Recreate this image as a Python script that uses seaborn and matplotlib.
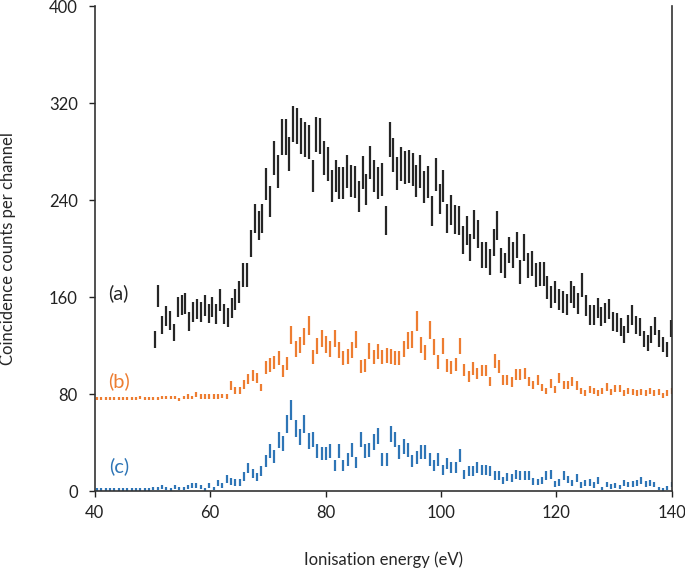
import numpy as np
import pandas as pd
import seaborn as sns
import matplotlib.pyplot as plt

# (a) black spectrum, channels of ~0.667 eV starting at 50.4 eV
a_start, a_step = 50.4, 0.667
a_counts = [125, 161, 137, 144.5, 141, 131, 152, 153.5, 155, 140,
            148, 150, 148, 153, 146.5, 152, 146, 157.5, 146, 143,
            151, 158, 164.5, 178, 178, 204.5, 225, 219, 225, 253,
            239, 275, 264, 292, 292, 278, 303, 301, 293, 290,
            288, 260, 294, 293, 275, 270, 252, 260, 254, 254,
            264, 256, 255, 243, 263, 249, 271, 260, 254, 257,
            223, 290, 277, 262, 270, 267, 268, 265, 256, 264,
            251, 255, 231, 261, 241, 252, 225, 232, 224, 223,
            207, 215, 201, 220, 212, 195, 195, 189, 205, 219,
            190, 186, 199, 195, 203, 181, 201, 186, 188, 178,
            179, 179, 168, 160, 164, 158, 156, 154, 164, 160,
            155, 170, 153, 145, 145, 151, 144, 147, 150, 140,
            139, 135, 129, 138, 145, 137, 135, 125.5, 122, 129,
            136, 126, 121, 117, 134]
a_err = [6.7, 9.0, 7.5, 8.0, 7.8, 7.1, 8.5, 8.5, 8.7, 7.7,
         8.2, 8.4, 8.2, 8.5, 8.1, 8.5, 8.1, 8.8, 8.1, 7.9,
         8.4, 8.8, 9.2, 9.9, 9.9, 11.1, 12.0, 11.8, 12.0, 13.2,
         12.6, 14.0, 13.6, 14.6, 14.6, 14.1, 14.9, 14.9, 14.6, 14.5,
         14.4, 13.4, 14.6, 14.6, 14.0, 13.8, 13.1, 13.4, 13.2, 13.2,
         13.6, 13.3, 13.2, 12.8, 13.5, 13.0, 13.8, 13.4, 13.2, 13.3,
         12.0, 14.5, 14.0, 13.5, 13.8, 13.7, 13.7, 13.6, 13.3, 13.6,
         13.1, 13.2, 12.3, 13.5, 12.7, 13.1, 12.0, 12.3, 12.0, 12.0,
         11.3, 11.6, 11.0, 11.8, 11.5, 10.7, 10.7, 10.4, 11.2, 11.8,
         10.5, 10.3, 10.9, 10.7, 11.1, 10.0, 11.0, 10.3, 10.4, 9.9,
         9.9, 9.9, 9.4, 8.9, 9.2, 8.8, 8.7, 8.6, 9.2, 8.9,
         8.7, 9.5, 8.5, 8.1, 8.1, 8.4, 8.0, 8.2, 8.4, 7.7,
         7.7, 7.4, 7.0, 7.6, 8.1, 7.5, 7.4, 6.7, 6.5, 7.0,
         7.5, 6.8, 6.4, 6.1, 7.3]

# (b) and (c) share channels of ~0.748 eV starting at 40.45 eV
bc_start, bc_step = 40.45, 0.748
b_counts = [76, 76, 76, 76, 76, 76, 76, 76, 76.5, 76.5,
            77, 76, 76, 76, 76.5, 77, 77, 77, 77, 75.5,
            77, 78, 77, 79.5, 78, 78, 78, 78, 78, 78.5,
            78, 87, 83, 83, 88, 92.5, 95.5, 93.5, 85.5, 102,
            104, 106, 110, 99, 105.5, 129, 117.5, 120.5, 127.5, 136.5,
            110.5, 119.5, 126, 121, 117.5, 126, 116.5, 110, 111, 116.5,
            125, 103, 103.5, 115.5, 110.5, 115, 110.5, 112, 111, 110,
            110, 117.5, 124, 125, 140.5, 120.5, 114.5, 133, 119, 106.5,
            119.5, 103.5, 102, 104.5, 119.5, 100, 94.5, 101, 97, 99.5,
            99.5, 90.5, 107, 103, 92, 92, 90, 96, 96, 97,
            90.5, 87.5, 91.5, 85.5, 82.5, 89, 83.5, 93, 87.5, 87.5,
            90.5, 87, 82.5, 81, 83.5, 82.5, 81, 82.5, 86, 82,
            84.5, 84.5, 81, 82.5, 82, 81, 82, 81, 82.5, 81,
            82, 79, 81, 82.5]
b_err = [1.2, 1.2, 1.2, 1.2, 1.2, 1.2, 1.2, 1.2, 1.3, 1.3,
         1.4, 1.2, 1.2, 1.2, 1.3, 1.4, 1.4, 1.4, 1.4, 1.1,
         1.4, 1.7, 1.4, 2.1, 1.7, 1.7, 1.7, 1.7, 1.7, 1.9,
         1.7, 3.5, 2.8, 2.8, 3.6, 4.2, 4.5, 4.3, 3.2, 5.2,
         5.4, 5.6, 5.9, 4.9, 5.5, 7.3, 6.5, 6.7, 7.2, 7.8,
         6.0, 6.7, 7.1, 6.8, 6.5, 7.1, 6.4, 5.9, 6.0, 6.4,
         7.1, 5.3, 5.3, 6.4, 6.0, 6.3, 6.0, 6.1, 6.0, 5.9,
         5.9, 6.5, 7.0, 7.1, 8.1, 6.7, 6.3, 7.6, 6.6, 5.6,
         6.7, 5.3, 5.2, 5.4, 6.7, 5.0, 4.4, 5.1, 4.7, 4.9,
         4.9, 3.9, 5.7, 5.3, 4.1, 4.1, 3.9, 4.6, 4.6, 4.7,
         3.9, 3.5, 4.1, 3.2, 2.7, 3.7, 2.9, 4.2, 3.5, 3.5,
         3.9, 3.5, 2.7, 2.4, 2.9, 2.7, 2.4, 2.7, 3.3, 2.6,
         3.1, 3.1, 2.4, 2.7, 2.6, 2.4, 2.6, 2.4, 2.7, 2.4,
         2.6, 2.0, 2.4, 2.7]
c_counts = [1, 1, 1, 1, 1.5, 1, 1, 1, 1.5, 1,
            1.5, 1, 1.5, 2, 2, 3, 2, 1.5, 3.5, 2,
            2, 3, 4.5, 4.5, 3.5, 1, 4.5, 2, 6.5, 4.5,
            10, 8, 7, 7, 12, 19, 14.5, 11.5, 16.5, 25,
            33, 28.5, 42, 39, 55.5, 67, 51.5, 44.5, 55, 41.5,
            42.5, 33, 31, 31, 33, 21, 33, 21, 26, 34,
            23.5, 42.5, 33, 34, 40.5, 45.5, 26, 26, 47, 42.5,
            32.5, 37, 34, 24.5, 27.5, 32, 32, 26, 21, 26,
            17.5, 22.5, 19.5, 19.5, 29.5, 14, 16.5, 16.5, 19.5, 17.5,
            17.5, 16.5, 13, 13, 9, 11.5, 10.5, 13.5, 13, 13,
            13, 8, 7.5, 9, 13, 13.5, 6, 7, 13, 9.5,
            6.5, 10.5, 5, 6.5, 7, 5, 8.5, 2, 5.5, 4,
            4.5, 3.5, 6.5, 5.5, 6, 6.5, 9, 6, 6.5, 5.5,
            2, 1.5, 2.5, 5.5]
c_err = [1.2, 1.2, 1.2, 1.2, 1.3, 1.2, 1.2, 1.2, 1.3, 1.2,
         1.3, 1.2, 1.3, 1.4, 1.4, 1.7, 1.4, 1.3, 1.9, 1.4,
         1.4, 1.7, 2.1, 2.1, 1.9, 1.2, 2.1, 1.4, 2.5, 2.1,
         3.2, 2.8, 2.6, 2.6, 3.5, 4.4, 3.8, 3.4, 4.1, 5.0,
         5.7, 5.3, 6.5, 6.2, 7.4, 8.2, 7.2, 6.7, 7.4, 6.4,
         6.5, 5.7, 5.6, 5.6, 5.7, 4.6, 5.7, 4.6, 5.1, 5.8,
         4.8, 6.5, 5.7, 5.8, 6.4, 6.7, 5.1, 5.1, 6.9, 6.5,
         5.7, 6.1, 5.8, 4.9, 5.2, 5.7, 5.7, 5.1, 4.6, 5.1,
         4.2, 4.7, 4.4, 4.4, 5.4, 3.7, 4.1, 4.1, 4.4, 4.2,
         4.2, 4.1, 3.6, 3.6, 3.0, 3.4, 3.2, 3.7, 3.6, 3.6,
         3.6, 2.8, 2.7, 3.0, 3.6, 3.7, 2.4, 2.6, 3.6, 3.1,
         2.5, 3.2, 2.2, 2.5, 2.6, 2.2, 2.9, 1.4, 2.3, 2.0,
         2.1, 1.9, 2.5, 2.3, 2.4, 2.5, 3.0, 2.4, 2.5, 2.3,
         1.4, 1.3, 1.6, 2.3]

labels = ['(a)', '(b)', '(c)']
colors = ['#262626', '#ED7D31', '#2E75B6']

df_a = pd.DataFrame({'energy': a_start + a_step * np.arange(len(a_counts)),
                     'counts': a_counts, 'err': a_err})
bc_energy = bc_start + bc_step * np.arange(len(b_counts))
df_b = pd.DataFrame({'energy': bc_energy, 'counts': b_counts, 'err': b_err})
df_c = pd.DataFrame({'energy': bc_energy, 'counts': c_counts, 'err': c_err})

sns.set_theme(style='ticks')
plt.rcParams['font.family'] = ['Lato', 'DejaVu Sans']

fig = plt.figure(figsize=(6.85, 5.69), dpi=100)
ax = fig.add_axes([0.138, 0.137, 0.843, 0.852])

for d, col in zip([df_a, df_b, df_c], colors):
    ax.errorbar(d['energy'], d['counts'], yerr=d['err'], fmt='none',
                ecolor=col, elinewidth=1.6, capsize=0)

# series labels
ax.text(44.2, 163, labels[0], color=colors[0], fontsize=14.5, ha='center', va='center')
ax.text(44.2, 91, labels[1], color=colors[1], fontsize=14.5, ha='center', va='center')
ax.text(44.2, 20.5, labels[2], color=colors[2], fontsize=14.5, ha='center', va='center')

ax.set_xlim(40, 140)
ax.set_ylim(0, 400)
ax.set_xticks(range(40, 141, 20))
ax.set_yticks(range(0, 401, 80))
ax.tick_params(labelsize=12, length=4, width=1, colors='#222222')
ax.tick_params(axis='y', pad=8)
ax.tick_params(axis='x', pad=6)
ax.set_xlabel('Ionisation energy (eV)', fontsize=12, labelpad=22)
ax.set_ylabel('Coincidence counts per channel', fontsize=12, labelpad=24)
for s in ax.spines.values():
    s.set_color('#333333')
    s.set_linewidth(1.2)
ax.spines['top'].set_visible(False)

fig.savefig('out.png', dpi=100)
